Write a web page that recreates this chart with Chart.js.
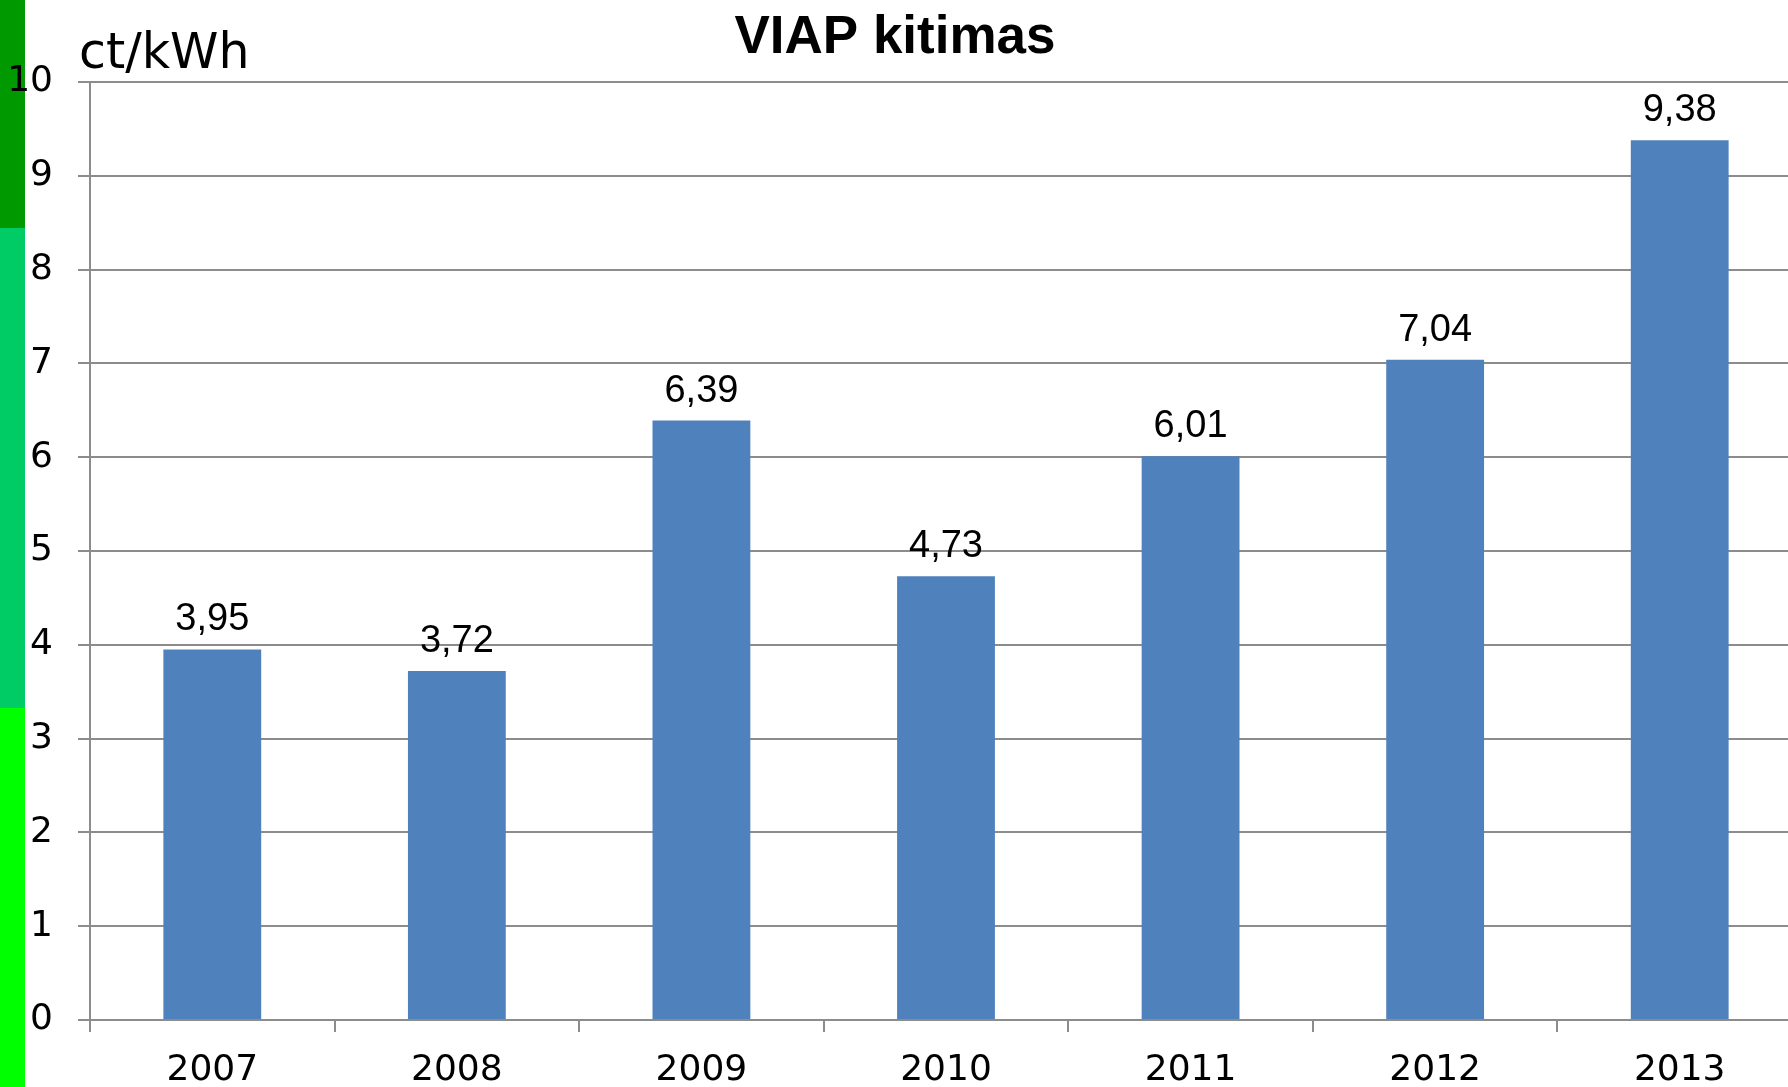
<!DOCTYPE html>
<html>
<head>
<meta charset="utf-8">
<title>VIAP kitimas</title>
<script src="https://cdn.jsdelivr.net/npm/chart.js@4"></script>
<style>
  html, body { margin: 0; padding: 0; background: #fff; overflow: hidden; }
  #wrap { width: 1810px; height: 1087px; }
</style>
</head>
<body>
<div id="wrap"><canvas id="viapChart" width="1810" height="1087"></canvas></div>
<script>
const years = ["2007", "2008", "2009", "2010", "2011", "2012", "2013"];
const viapValues = [3.95, 3.72, 6.39, 4.73, 6.01, 7.04, 9.38];
const yTicks = [0, 1, 2, 3, 4, 5, 6, 7, 8, 9, 10];

const gridGray = '#8c8c8c';

// side strip, title, unit and value labels
const decorPlugin = {
  id: 'decor',
  beforeDraw(chart) {
    const ctx = chart.ctx;
    ctx.save();
    ctx.fillStyle = '#009900';
    ctx.fillRect(0, 0, 25, 228);
    ctx.fillStyle = '#00cc66';
    ctx.fillRect(0, 228, 25, 480);
    ctx.fillStyle = '#00ff00';
    ctx.fillRect(0, 708, 25, 379);
    ctx.restore();
  },
  afterDraw(chart) {
    const ctx = chart.ctx;
    ctx.save();
    ctx.fillStyle = '#000';
    ctx.textAlign = 'center';
    ctx.textBaseline = 'alphabetic';
    ctx.font = 'bold 53px "Liberation Sans", Arial, sans-serif';
    ctx.fillText('VIAP kitimas', 895, 53);

    ctx.textAlign = 'left';
    ctx.font = '49px "DejaVu Sans", Verdana, sans-serif';
    ctx.fillText('ct/kWh', 79, 68);

    ctx.textAlign = 'center';
    ctx.font = '38px "Liberation Sans", Arial, sans-serif';
    const meta = chart.getDatasetMeta(0);
    meta.data.forEach((bar, i) => {
      const label = viapValues[i].toFixed(2).replace('.', ',');
      ctx.fillText(label, bar.x, bar.y - 19);
    });
    ctx.restore();
  }
};

const ctx = document.getElementById('viapChart').getContext('2d');
new Chart(ctx, {
  type: 'bar',
  data: {
    labels: years,
    datasets: [{
      label: 'VIAP',
      data: viapValues,
      backgroundColor: '#4f81bd',
      borderWidth: 0,
      categoryPercentage: 1,
      barPercentage: 0.4
    }]
  },
  options: {
    responsive: false,
    animation: false,
    layout: { padding: { top: 82, right: 8, left: 0, bottom: 0 } },
    plugins: {
      legend: { display: false },
      tooltip: { enabled: false }
    },
    scales: {
      x: {
        afterFit(scale) { scale.height = 67; },
        grid: {
          offset: true,
          drawOnChartArea: false,
          drawTicks: true,
          tickLength: 12,
          color: gridGray,
          lineWidth: 2
        },
        border: { display: true, color: gridGray, width: 2 },
        ticks: {
          color: '#000',
          padding: 17,
          font: { family: '"DejaVu Sans", Verdana, sans-serif', size: 36 }
        }
      },
      y: {
        min: 0,
        max: 10,
        afterFit(scale) { scale.width = 90; },
        afterBuildTicks(scale) { scale.ticks = yTicks.map(v => ({ value: v })); },
        grid: {
          drawTicks: true,
          tickLength: 12,
          color: gridGray,
          lineWidth: 2
        },
        border: { display: true, color: gridGray, width: 2 },
        ticks: {
          color: '#000',
          padding: 25,
          font: { family: '"DejaVu Sans", Verdana, sans-serif', size: 36 }
        }
      }
    }
  },
  plugins: [decorPlugin]
});
</script>
</body>
</html>
